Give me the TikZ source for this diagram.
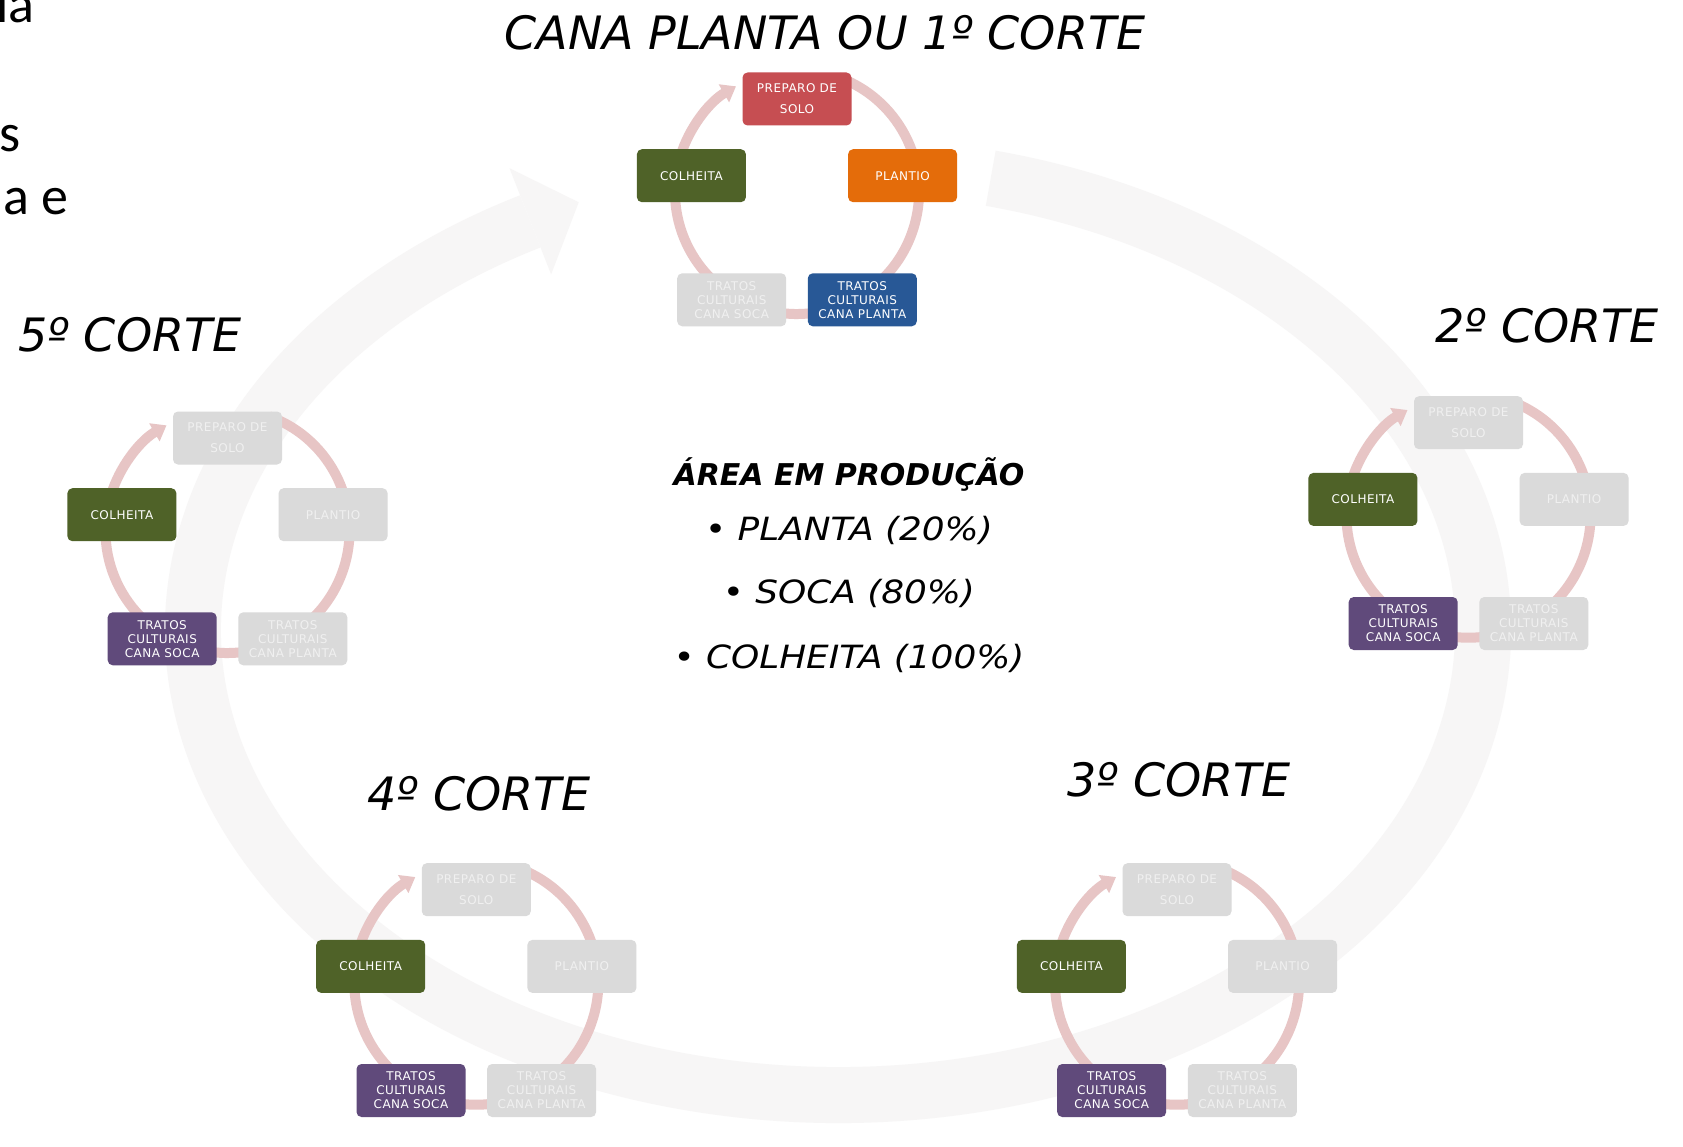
\documentclass[tikz,border=0pt]{standalone}
\usepackage{fontspec}
\setmainfont{DejaVu Sans}
\newfontfamily\boxfont{DejaVu Sans}[LetterSpace=4.0]
\newfontfamily\listfont{DejaVu Sans}[FakeStretch=1.12]
\newfontfamily\slidefont{Carlito}
\usetikzlibrary{arrows.meta}

\definecolor{bandgray}{RGB}{247,246,246}
\definecolor{ringpink}{RGB}{231,197,197}
\definecolor{prepred}{RGB}{198,78,82}
\definecolor{plantorange}{RGB}{228,108,10}
\definecolor{harvgreen}{RGB}{79,98,40}
\definecolor{treatblue}{RGB}{40,88,150}
\definecolor{socapurple}{RGB}{96,74,123}
\definecolor{offgray}{RGB}{218,218,218}
\definecolor{offtext}{RGB}{240,240,240}

\begin{document}
\begin{tikzpicture}[x=1pt, y=-1pt,
    stage/.style={rounded corners=5pt, minimum width=109pt, minimum height=53pt,
      inner sep=0pt, align=center, text=white,
      font=\boxfont\fontsize{12}{14}\selectfont},
    prepbox/.style={stage, fill=prepred},
    plantbox/.style={stage, fill=plantorange},
    cpbox/.style={stage, fill=treatblue},
    csbox/.style={stage, fill=socapurple},
    harvbox/.style={stage, fill=harvgreen},
    offbox/.style={stage, fill=offgray, text=offtext},
    cyclering/.style={draw=ringpink, line width=10pt},
    corte/.style={font=\itshape\fontsize{46}{50}\selectfont, anchor=base, inner sep=0pt},
    share/.style={font=\listfont\itshape\fontsize{32}{36}\selectfont, anchor=base, inner sep=0pt},
    fragment/.style={font=\slidefont\fontsize{54}{60}\selectfont, inner sep=0pt}]

    \useasboundingbox (0,0) rectangle (1683,1147);
    \clip (0,0) rectangle (1683,1147);
    \fill[white] (0,0) rectangle (1683,1147);

    % Big cycle band behind everything
    \draw[bandgray, line width=56pt] (838,630) ++(-76.3:645 and 465)
        arc[start angle=-76.3, end angle=241.5, x radius=645, y radius=465];
    \fill[bandgray] (509.5,168.2) -- (578.7,202.3) -- (551.1,274.4) -- cycle;

    % Leftover slide text
    \node[fragment, anchor=base east] (frag-top) at (35,23) {la};
    \node[fragment, anchor=base west] (frag-mid) at (-1,152) {s};
    \node[fragment, anchor=base west] (frag-low) at (3,215) {a e};

    % Titles
    \node[corte] (title-one) at (825,50) {CANA PLANTA OU 1º CORTE};
    \node[corte] (title-two) at (1547,342) {2º CORTE};
    \node[corte] (title-three) at (1179,796) {3º CORTE};
    \node[corte] (title-four) at (479,810) {4º CORTE};
    \node[corte] (title-five) at (130,352) {5º CORTE};

    % Area in production
    \node[font=\bfseries\itshape\fontsize{30}{36}\selectfont, anchor=base, inner sep=0pt]
        (area) at (849,485) {ÁREA EM PRODUÇÃO};
    \node[share] (share-plant) at (849,540) {\textbullet{} PLANTA (20\%)};
    \node[share] (share-soca) at (849,603) {\textbullet{} SOCA (80\%)};
    \node[share] (share-harv) at (849,668) {\textbullet{} COLHEITA (100\%)};

    % One small cycle per cut
    \foreach \cyc/\cx/\cy/\sa/\sb/\sc/\sd in {%
        one/797/210/prepbox/plantbox/cpbox/offbox,
        two/1468.5/533.7/offbox/offbox/offbox/csbox,
        three/1177/1000.7/offbox/offbox/offbox/csbox,
        four/476.3/1000.7/offbox/offbox/offbox/csbox,
        five/227.5/549/offbox/offbox/offbox/csbox}{
      \coordinate (\cyc-hub) at (\cx,\cy-18);
      \draw[cyclering, -{Triangle[width=20pt,length=14pt]}] (\cyc-hub) ++(290:122)
          arc[start angle=290, end angle=600, radius=122];
      \node[\sa] (\cyc-prep) at (\cx,\cy-111) {PREPARO DE\\[7pt]SOLO};
      \node[\sb] (\cyc-plant) at (\cx+105.6,\cy-34.3) {PLANTIO};
      \node[\sc] (\cyc-cp) at (\cx+65.3,\cy+89.8) {TRATOS\\CULTURAIS\\CANA PLANTA};
      \node[\sd] (\cyc-cs) at (\cx-65.3,\cy+89.8) {TRATOS\\CULTURAIS\\CANA SOCA};
      \node[harvbox] (\cyc-harv) at (\cx-105.6,\cy-34.3) {COLHEITA};
    }
\end{tikzpicture}
\end{document}
